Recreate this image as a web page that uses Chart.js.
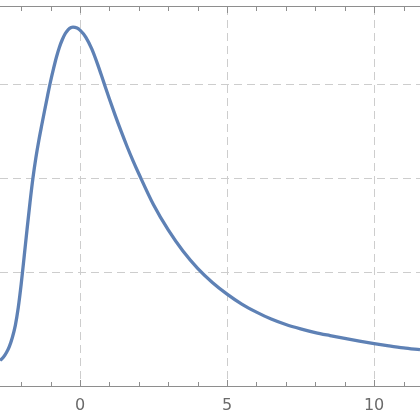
<!DOCTYPE html>
<html>
<head>
<meta charset="utf-8">
<script src="https://cdn.jsdelivr.net/npm/chart.js@4.4.1/dist/chart.umd.min.js"></script>
<style>
  html, body { margin: 0; padding: 0; background: #fff; }
  canvas { display: block; }
</style>
</head>
<body>
<canvas id="chart" width="420" height="420"></canvas>
<script>
// Curve points
const xValues = [-2.72, -2.6, -2.5, -2.4, -2.3, -2.2, -2.1, -2.0, -1.9, -1.8, -1.7, -1.6, -1.5, -1.4, -1.3, -1.2, -1.1, -1.0,
                 -0.9, -0.8, -0.7, -0.6, -0.5, -0.4, -0.3, -0.24, -0.1, 0, 0.2, 0.4, 0.6, 0.8, 1.0, 1.2, 1.4, 1.6, 1.8, 2.0,
                 2.5, 3.0, 3.5, 4.0, 4.5, 5.0, 5.5, 6.0, 6.5, 7.0, 7.5, 8.0, 8.5, 9.0, 9.5, 10.0, 10.5, 11.0, 11.56];
const yValues = [0.0030, 0.0048, 0.0072, 0.0105, 0.0152, 0.0215, 0.0310, 0.0435, 0.0580, 0.0728, 0.0870, 0.1000, 0.1108, 0.1200, 0.1282, 0.1362, 0.1440, 0.1515,
                 0.1582, 0.1644, 0.1696, 0.1737, 0.1769, 0.1790, 0.1801, 0.1803, 0.1798, 0.1787, 0.1749, 0.1687, 0.1605, 0.1513, 0.1421, 0.1332, 0.1248, 0.1168, 0.1093, 0.1023,
                 0.0858, 0.0724, 0.0612, 0.0520, 0.0445, 0.0383, 0.0330, 0.0287, 0.0250, 0.0221, 0.0198, 0.0178, 0.0162, 0.0147, 0.0133, 0.0120, 0.0108, 0.0097, 0.0087];

// Axis ticks
const xTickLabels = [0, 5, 10];
const xMinorTicks = [-2, -1, 0, 1, 2, 3, 4, 5, 6, 7, 8, 9, 10, 11];
const yGridValues = [0.05, 0.10, 0.15];

const gridColor = '#cdcdcd';
const frameColor = '#8e8e8e';

// Mathematica-style frame with ticks pointing inward
const framePlugin = {
    id: 'frame',
    afterDraw(chart) {
        const ctx = chart.ctx;
        const area = chart.chartArea;
        const xs = chart.scales.x;
        ctx.save();
        ctx.strokeStyle = frameColor;
        ctx.lineWidth = 1;
        ctx.beginPath();
        ctx.moveTo(0, area.bottom + 0.5);
        ctx.lineTo(chart.width, area.bottom + 0.5);
        ctx.moveTo(0, area.top - 0.5);
        ctx.lineTo(chart.width, area.top - 0.5);
        xMinorTicks.forEach(v => {
            const px = Math.round(xs.getPixelForValue(v)) + 0.5;
            const len = v % 5 === 0 ? 6 : 4;
            ctx.moveTo(px, area.bottom);
            ctx.lineTo(px, area.bottom - len);
            ctx.moveTo(px, area.top);
            ctx.lineTo(px, area.top + len);
        });
        ctx.stroke();
        ctx.restore();
    }
};

const points = xValues.map((x, i) => ({ x: x, y: yValues[i] }));

new Chart(document.getElementById('chart'), {
    type: 'line',
    data: {
        datasets: [{
            data: points,
            borderColor: '#5e81b5',
            borderWidth: 3.3,
            pointRadius: 0,
            fill: false,
            cubicInterpolationMode: 'monotone'
        }]
    },
    options: {
        responsive: false,
        animation: false,
        devicePixelRatio: 1,
        layout: { padding: { top: 7, left: 0, right: 0, bottom: 0 } },
        plugins: {
            legend: { display: false },
            tooltip: { enabled: false }
        },
        scales: {
            x: {
                type: 'linear',
                min: -2.72,
                max: 11.56,
                afterBuildTicks: scale => {
                    scale.ticks = xTickLabels.map(v => ({ value: v }));
                },
                afterFit: scale => { scale.height = 34; },
                ticks: {
                    color: '#6a6a6a',
                    font: { family: 'DejaVu Sans', size: 16 },
                    padding: 10,
                    maxRotation: 0,
                    callback: v => String(v)
                },
                grid: {
                    color: gridColor,
                    lineWidth: 1,
                    drawTicks: false
                },
                border: { display: false, dash: [8, 5] }
            },
            y: {
                min: -0.0106,
                max: 0.191,
                afterBuildTicks: scale => {
                    scale.ticks = yGridValues.map(v => ({ value: v }));
                },
                afterFit: scale => { scale.width = 0; },
                ticks: { display: false },
                grid: {
                    color: gridColor,
                    lineWidth: 1,
                    drawTicks: false
                },
                border: { display: false, dash: [8, 5] }
            }
        }
    },
    plugins: [framePlugin]
});
</script>
</body>
</html>
